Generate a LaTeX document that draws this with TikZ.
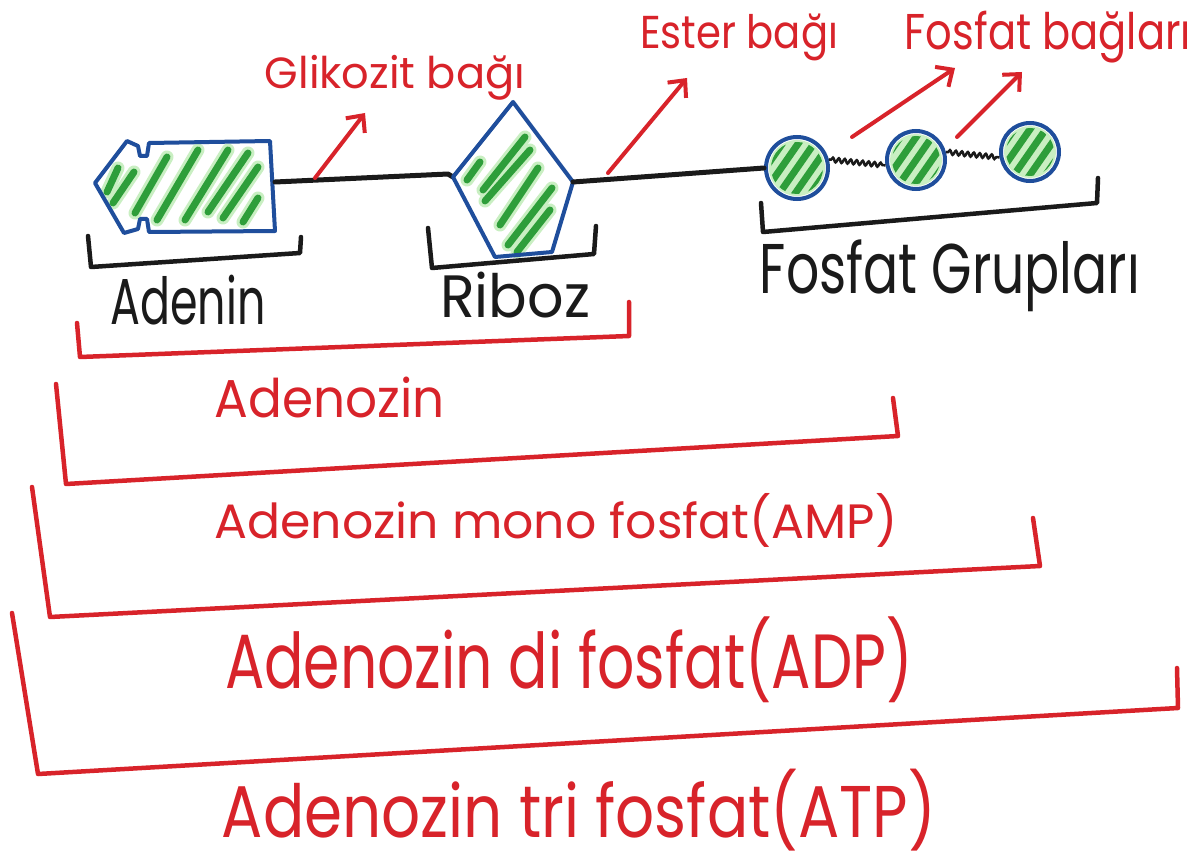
\documentclass[tikz,border=0pt]{standalone}
\usepackage{fontspec}
\setmainfont{Poppins}
\usetikzlibrary{arrows.meta,decorations.pathmorphing}
\definecolor{pred}{HTML}{D8232A}
\definecolor{pblue}{HTML}{1F4E9C}
\definecolor{pgreen}{HTML}{2E9E3A}
\definecolor{plgreen}{HTML}{C9EFC2}
\definecolor{inkblack}{HTML}{1A1A1A}
\newcommand{\hw}[3]{\resizebox*{#1pt}{#2pt}{#3}}
\tikzset{
  lbl/.style={inner sep=0pt, outer sep=0pt},
  redtxt/.style={lbl, text=pred},
  blacktxt/.style={lbl, text=inkblack},
  bond/.style={line width=5pt, draw=inkblack, line cap=round, line join=round},
  redbr/.style={line width=4.5pt, draw=pred, line cap=round, line join=round},
  blkbr/.style={line width=4.5pt, draw=inkblack, line cap=round, line join=round},
  outline/.style={line width=4pt, draw=pblue, line join=round},
  stripe/.style={line width=7pt, draw=pgreen, line cap=round},
  glow/.style={line width=13pt, draw=plgreen, line cap=round},
  ptr/.style={line width=4pt, draw=pred, line cap=round, -{Straight Barb[length=13pt,width=24pt]}},
  phos/.style={circle, draw=pblue, line width=4pt, inner sep=0pt},
  wavy/.style={draw=inkblack, line width=2.5pt, decorate, decoration={snake, amplitude=2.2pt, segment length=6pt, pre length=2pt, post length=2pt}}
}
\begin{document}
\begin{tikzpicture}[x=1pt,y=-1pt]
\useasboundingbox (0,0) rectangle (1203,861);
\fill[white] (0,0) rectangle (1203,861);

% ---------- Adenin shape ----------
\coordinate (aR) at (275,182);
\def\adeninpath{(95,183) -- (127,141) -- (138,146) -- (140,156) -- (147,156) -- (149,143) -- (270,141) -- (275,231) -- (149,232) -- (147,219) -- (140,219) -- (138,229) -- (124,233) -- cycle}
\fill[white] \adeninpath;
\foreach \a/\b/\c/\d in {107/192/118/168, 113/203/134/172, 135/213/167/157, 157/220/198/150, 185/220/228/150, 208/212/248/153, 223/218/258/167, 243/222/258/198}{
  \draw[glow] (\a,\b) -- (\c,\d);
}
\foreach \a/\b/\c/\d in {107/192/118/168, 113/203/134/172, 135/213/167/157, 157/220/198/150, 185/220/228/150, 208/212/248/153, 223/218/258/167, 243/222/258/198}{
  \draw[stripe] (\a,\b) -- (\c,\d);
}
\draw[outline] \adeninpath;

% ---------- Riboz shape ----------
\coordinate (rL) at (453,177);
\coordinate (rR) at (573,182);
\draw[bond] (aR) -- (448,174) -- (rL);
\fill[white] (rL) -- (513,102) -- (rR) -- (552,252) -- (495,257) -- cycle;
\foreach \a/\b/\c/\d in {467/180/480/162, 483/190/525/137, 485/201/530/150, 500/225/538/168, 508/245/552/188, 517/252/550/210}{
  \draw[glow] (\a,\b) -- (\c,\d);
}
\foreach \a/\b/\c/\d in {467/180/480/162, 483/190/525/137, 485/201/530/150, 500/225/538/168, 508/245/552/188, 517/252/550/210}{
  \draw[stripe] (\a,\b) -- (\c,\d);
}
\draw[outline] (rL) -- (513,102) -- (rR) -- (552,252) -- (495,257) -- cycle;

% ---------- Phosphate groups ----------
\foreach \n/\cx/\cy/\r in {p1/797/168/31, p2/916/160/29, p3/1030/152/29}{
  \begin{scope}[shift={(\cx,\cy)}]
    \fill[plgreen] (0,0) circle[radius=\r-3];
    \clip (0,0) circle[radius=\r-5];
    \foreach \k in {-26,-13,0,13,26}{
      \draw[stripe] ({\k*0.82-0.57*40},{\k*0.57+0.82*40}) -- ({\k*0.82+0.57*40},{\k*0.57-0.82*40});
    }
  \end{scope}
  \node[phos, minimum size=2*\r] (\n) at (\cx,\cy) {};
}
\draw[bond] (rR) -- (p1.west);
\draw[wavy] (p1.15) -- (p2.190);
\draw[wavy] (p2.15) -- (p3.190);

% ---------- black brackets ----------
\draw[blkbr] (88,236) -- (91,267) -- (300,253) -- (301,237);
\draw[blkbr] (428,228) -- (432,268) -- (594,254) -- (596,226);
\draw[blkbr] (761,203) -- (763,232) -- (1097,203) -- (1098,178);

% ---------- labels ----------
\node[redtxt] (glik) at (395,78) {\hw{260}{45}{Glikozit bağı}};
\node[redtxt] (ester) at (739,37) {\hw{198}{47}{Ester bağı}};
\node[redtxt] (fbag) at (1048,37) {\hw{286}{52}{Fosfat bağları}};
\node[blacktxt] (aden) at (188,300) {\hw{155}{50}{Adenin}};
\node[blacktxt] (ribo) at (515,295) {\hw{150}{46}{Riboz}};
\node[blacktxt] (fgrup) at (950,276) {\hw{380}{72}{Fosfat Grupları}};

% ---------- pointer arrows ----------
\coordinate (gs) at (315,178);  \coordinate (ge) at (365,113);
\coordinate (es) at (608,173);  \coordinate (ee) at (687,78);
\coordinate (f1s) at (852,137); \coordinate (f1e) at (955,68);
\coordinate (f2s) at (957,137); \coordinate (f2e) at (1022,72);
\draw[ptr] (gs) -- (ge);
\draw[ptr] (es) -- (ee);
\draw[ptr] (f1s) -- (f1e);
\draw[ptr] (f2s) -- (f2e);

% ---------- red brackets ----------
\draw[redbr] (77,323) -- (80,357) -- (629,336) -- (629,302);
\node[redtxt] (ado) at (330,397) {\hw{230}{41}{Adenozin}};
\draw[redbr] (56,384) -- (66,484) -- (898,436) -- (893,398);
\node[redtxt] (amp) at (556,520) {\hw{683}{54}{Adenozin mono fosfat(AMP)}};
\draw[redbr] (32,487) -- (50,617) -- (1040,566) -- (1033,518);
\node[redtxt] (adp) at (569,660) {\hw{688}{86}{Adenozin di fosfat(ADP)}};
\draw[redbr] (12,613) -- (38,774) -- (1178,708) -- (1177,668);
\node[redtxt] (atp) at (579,810) {\hw{714}{82}{Adenozin tri fosfat(ATP)}};
\end{tikzpicture}
\end{document}
